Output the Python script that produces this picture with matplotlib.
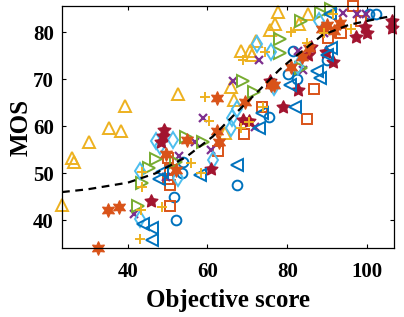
import matplotlib
matplotlib.use('Agg')
import matplotlib.pyplot as plt

# scores, one list pair per method
circ_x = [51.5, 52.1, 53.7, 53.8, 67.4, 75.4, 80.3, 82.4, 81.5, 90.0, 100.4, 102.3]
circ_y = [44.9, 40.1, 50.0, 52.5, 47.5, 61.9, 71.1, 70.0, 76.1, 74.2, 83.9, 84.0]

sq_x = [50.2, 50.7, 50.2, 50.5, 50.5, 62.6, 69.2, 73.8, 84.9, 86.7, 90.3, 93.4, 96.5, 98.4]
sq_y = [53.2, 50.8, 48.7, 47.6, 43.0, 54.7, 58.4, 64.0, 61.6, 67.9, 78.7, 79.8, 85.5, 82.3]

tri_x = [23.4, 26.0, 26.4, 30.2, 35.2, 38.3, 39.3, 52.5, 64.5, 66.7, 66.0, 71.1, 70.7, 68.4,
         72.2, 75.6, 77.0, 77.7, 83.0, 85.2]
tri_y = [43.3, 53.2, 52.3, 56.7, 59.6, 59.1, 64.4, 66.8, 58.5, 65.6, 68.3, 75.2, 76.1, 76.1,
         78.1, 80.5, 81.8, 84.3, 81.8, 83.9]

cross_x = [41.5, 49.7, 52.8, 56.8, 58.8, 61.0, 66.5, 71.8, 72.8, 82.8, 83.9, 89.3, 94.0, 97.5, 99.8]
cross_y = [41.4, 49.2, 53.6, 56.7, 61.7, 54.9, 69.6, 59.9, 74.0, 76.1, 71.9, 79.9, 84.2, 84.0, 84.0]

rtri_x = [42.5, 43.5, 45.3, 47.2, 52.2, 54.7, 58.8, 68.9, 71.7, 78.1, 78.2, 83.4, 83.4, 88.4, 91.1]
rtri_y = [43.0, 47.9, 51.1, 53.0, 52.5, 57.8, 56.6, 69.6, 67.3, 75.5, 78.5, 72.5, 82.3, 84.1, 85.0]

dia_x = [43.0, 43.1, 47.2, 48.0, 51.3, 52.6, 61.3, 65.8, 66.1, 67.4, 72.5, 75.9, 76.7, 82.7, 87.9]
dia_y = [40.3, 50.5, 56.8, 55.7, 57.1, 48.9, 52.8, 59.6, 61.7, 63.7, 77.5, 75.8, 68.3, 72.9, 82.5]

pent_x = [45.9, 48.4, 48.8, 49.1, 61.0, 68.8, 70.4, 75.7, 78.9, 82.8, 85.3, 85.9, 89.7, 91.5,
          97.2, 99.5, 100.1, 106.3, 106.3]
pent_y = [44.2, 56.7, 57.9, 59.2, 51.0, 61.4, 61.2, 69.7, 64.1, 67.8, 75.2, 76.9, 75.8, 73.7,
          79.0, 81.1, 79.8, 82.3, 80.9]

ltri_x = [43.9, 46.1, 46.1, 47.8, 48.5, 58.0, 67.3, 73.0, 73.8, 80.8, 82.0, 87.5, 88.3, 90.1,
          91.0, 90.8]
ltri_y = [39.3, 38.3, 35.8, 48.7, 50.2, 49.6, 51.7, 59.7, 62.8, 68.7, 64.2, 71.8, 70.3, 75.2,
          76.7, 84.0]

hex_x = [32.6, 35.0, 37.8, 49.6, 52.2, 54.9, 62.3, 62.5, 63.0, 69.3, 75.9, 76.8, 80.9, 83.8,
         85.5, 88.8, 90.1, 91.8, 93.2]
hex_y = [34.2, 42.2, 42.8, 54.2, 50.7, 57.1, 66.1, 59.0, 56.7, 65.2, 68.7, 68.8, 72.7, 74.8,
         76.6, 80.8, 81.6, 80.2, 82.0]

plus_x = [43.1, 43.3, 43.5, 43.5, 48.6, 55.9, 58.4, 59.3, 60.5, 68.4, 68.8, 70.5, 74.0, 74.5,
          80.9, 85.0, 89.3, 91.6, 95.9]
plus_y = [36.1, 42.2, 47.1, 50.3, 42.8, 52.1, 50.1, 66.2, 61.2, 59.6, 74.0, 61.0, 64.1, 75.8,
          80.1, 77.7, 79.8, 83.8, 80.8]

# fitted curve, points
fit_x = [23.5, 30, 40, 47, 54.7, 61.3, 67, 73, 78, 80.5, 85.1, 88.8, 95.5, 102.2, 106.5]
fit_y = [46.0, 46.6, 48.0, 50.0, 53.5, 57.8, 62.7, 67.7, 72.0, 73.8, 76.9, 79.4, 81.6, 82.8, 83.5]

blue = (0, 0.447, 0.741)
orange = (0.85, 0.325, 0.098)
yellow = (0.929, 0.694, 0.125)
purple = (0.494, 0.184, 0.556)
green = (0.466, 0.674, 0.188)
lblue = (0.301, 0.745, 0.933)
dred = (0.635, 0.078, 0.184)

plt.rcParams['font.family'] = 'Liberation Serif'
plt.rcParams['font.weight'] = 'bold'

fig = plt.figure(figsize=(4.04, 3.17), dpi=100)
ax = fig.add_axes([0.1535, 0.2177, 0.8218, 0.7634])

kw = dict(linestyle='none', clip_on=False)
ax.plot(circ_x, circ_y, marker='o', ms=7, mfc='none', mec=blue, mew=1.4, **kw)
ax.plot(sq_x, sq_y, marker='s', ms=6.5, mfc='none', mec=orange, mew=1.4, **kw)
ax.plot(tri_x, tri_y, marker='^', ms=8, mfc='none', mec=yellow, mew=1.4, **kw)
ax.plot(cross_x, cross_y, marker='x', ms=6, mfc='none', mec=purple, mew=1.6, **kw)
ax.plot(rtri_x, rtri_y, marker='>', ms=8, mfc='none', mec=green, mew=1.4, **kw)
ax.plot(dia_x, dia_y, marker='d', ms=8, mfc='none', mec=lblue, mew=1.4, **kw)
ax.plot(pent_x, pent_y, marker=(5, 1, 0), ms=10, mfc=dred, mec=dred, mew=0.8, **kw)
ax.plot(ltri_x, ltri_y, marker='<', ms=8, mfc='none', mec=blue, mew=1.4, **kw)
ax.plot(hex_x, hex_y, marker=(6, 1, 0), ms=10, mfc=orange, mec=orange, mew=0.8, **kw)
ax.plot(plus_x, plus_y, marker='+', ms=7, mfc='none', mec=yellow, mew=1.4, **kw)

ax.plot(fit_x, fit_y, color='k', linestyle=(0, (3.5, 2.5)), linewidth=1.6)

ax.set_xlim(23.5, 106.8)
ax.set_ylim(34.1, 85.6)
ax.set_xticks([40, 60, 80, 100])
ax.set_yticks([40, 50, 60, 70, 80])
ax.tick_params(direction='in', length=3, width=0.8, top=True, right=True, labelsize=15)
ax.tick_params(axis='x', pad=10)
ax.tick_params(axis='y', pad=6)
for s in ax.spines.values():
    s.set_linewidth(0.9)

ax.set_xlabel('Objective score', fontsize=18, fontweight='bold', labelpad=5)
ax.set_ylabel('MOS', fontsize=18, fontweight='bold', labelpad=0)

fig.savefig('out.png', dpi=100)
